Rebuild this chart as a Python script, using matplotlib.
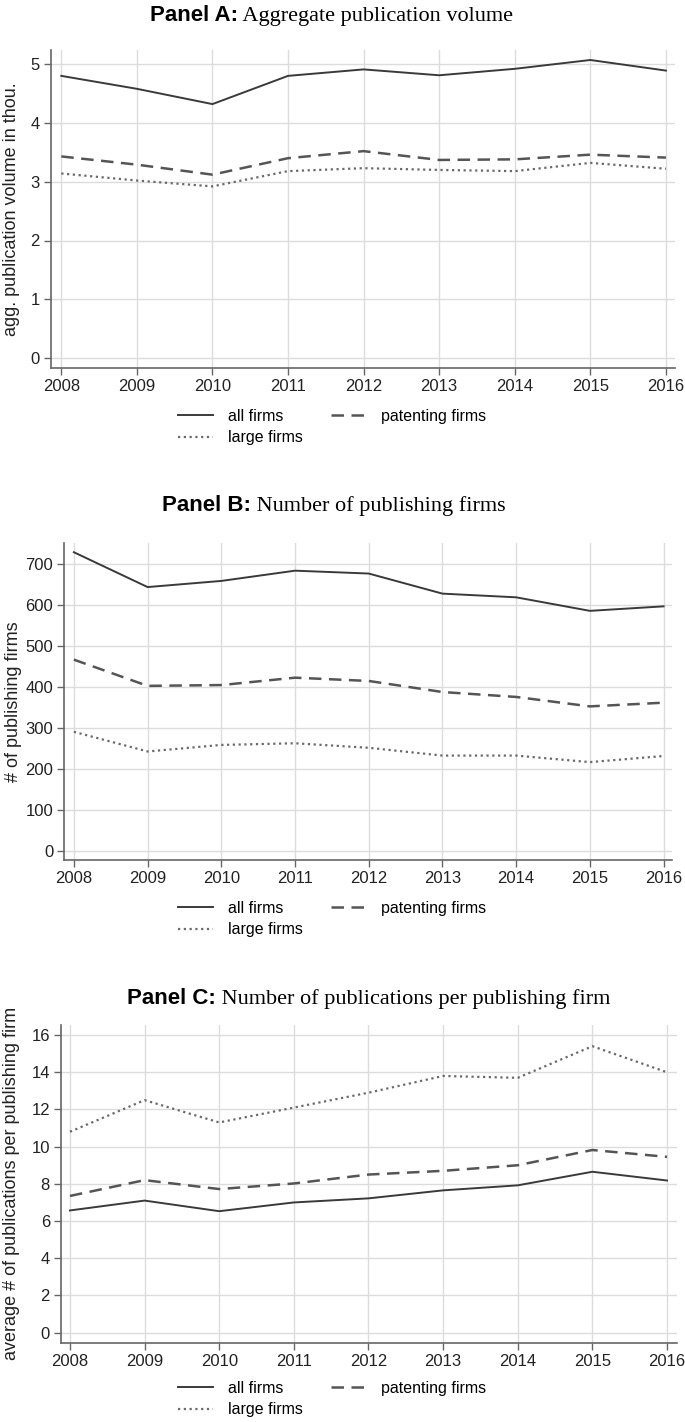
import matplotlib
matplotlib.use('Agg')
import matplotlib.pyplot as plt
from matplotlib import font_manager

years = [2008, 2009, 2010, 2011, 2012, 2013, 2014, 2015, 2016]

# Panel A: aggregate publication volume (thousands)
vol_all = [4.80, 4.58, 4.32, 4.80, 4.91, 4.81, 4.92, 5.07, 4.89]
vol_pat = [3.43, 3.29, 3.12, 3.40, 3.52, 3.37, 3.38, 3.46, 3.41]
vol_large = [3.14, 3.02, 2.92, 3.18, 3.23, 3.20, 3.18, 3.32, 3.22]

# Panel B: number of publishing firms
firms_all = [728, 643, 658, 683, 676, 627, 618, 585, 596]
firms_pat = [466, 402, 404, 422, 414, 387, 375, 352, 361]
firms_large = [290, 242, 258, 262, 251, 232, 232, 216, 231]

# Panel C: publications per publishing firm
per_all = [6.57, 7.10, 6.53, 7.00, 7.22, 7.65, 7.92, 8.65, 8.18]
per_pat = [7.35, 8.20, 7.72, 8.02, 8.50, 8.70, 9.00, 9.82, 9.45]
per_large = [10.80, 12.50, 11.30, 12.10, 12.90, 13.80, 13.70, 15.40, 14.00]

names = ['all firms', 'patenting firms', 'large firms']

avail = set(f.name for f in font_manager.fontManager.ttflist)
narrow = 'Liberation Sans Narrow' if 'Liberation Sans Narrow' in avail else 'Liberation Sans'
plt.rcParams['font.family'] = [narrow, 'DejaVu Sans']

W, H = 685, 1422
fig = plt.figure(figsize=(W / 100, H / 100), dpi=100)

def px_axes(left, top, right, bottom):
    return fig.add_axes([left / W, 1 - bottom / H, (right - left) / W, (bottom - top) / H])

def panel(box, series, yticks, ylim, xlim, ylabel, ylab_x, title_b, title_r, title_x, title_y, leg_y):
    ax = px_axes(*box)
    styles = [dict(color='#3a3a3a', lw=1.4, ls='-'),
              dict(color='#555555', lw=1.8, ls=(0, (5, 3))),
              dict(color='#6a6a6a', lw=1.6, ls=(0, (1, 1.6)))]
    lines = []
    for vals, st, nm in zip(series, styles, names):
        l, = ax.plot(years, vals, label=nm, **st)
        lines.append(l)
    ax.set_xlim(xlim)
    ax.set_ylim(ylim)
    ax.set_xticks(years)
    ax.set_yticks(yticks)
    ax.grid(True, color='#dcdcdc', lw=1.0)
    ax.set_axisbelow(True)
    for s in ['top', 'right']:
        ax.spines[s].set_visible(False)
    for s in ['left', 'bottom']:
        ax.spines[s].set_color('#666666')
        ax.spines[s].set_linewidth(1.2)
    ax.tick_params(direction='out', length=5, width=1.0, color='#666666',
                   labelsize=12, labelcolor='#222222', pad=3)
    fig.text(ylab_x / W, 1 - (box[1] + box[3]) / 2 / H, ylabel, rotation=90,
             ha='center', va='center', fontsize=13, family='Liberation Sans', color='#222222')
    t1 = fig.text(title_x / W, 1 - title_y / H, title_b, fontsize=16, fontweight='bold',
                  family='Liberation Sans', ha='left', va='baseline', color='black')
    ax.annotate(' ' + title_r, xy=(1, 0), xycoords=t1, va='bottom', ha='left',
                fontsize=16, family='Liberation Serif', color='black')
    fig.legend([lines[0], lines[2], lines[1]], [names[0], names[2], names[1]],
               ncol=2, loc='upper left', bbox_to_anchor=(178 / W, 1 - leg_y / H),
               frameon=False, fontsize=11.5, handlelength=2.2, handletextpad=0.9,
               columnspacing=1.8, labelspacing=0.4, borderpad=0, borderaxespad=0)
    return ax

panel((50.7, 50, 675, 367.5), [vol_all, vol_pat, vol_large], [0, 1, 2, 3, 4, 5],
      (-0.16, 5.24), (2007.86, 2016.12), 'agg. publication volume in thou.', 12,
      'Panel A:', 'Aggregate publication volume', 150, 21, 409)

panel((64.3, 543, 671.7, 860), [firms_all, firms_pat, firms_large],
      [0, 100, 200, 300, 400, 500, 600, 700],
      (-22.7, 750.5), (2007.87, 2016.11), '# of publishing firms', 14,
      'Panel B:', 'Number of publishing firms', 162, 511, 901)

panel((61, 1025, 676.7, 1342.7), [per_all, per_pat, per_large],
      [0, 2, 4, 6, 8, 10, 12, 14, 16],
      (-0.54, 16.54), (2007.88, 2016.13), 'average # of publications per publishing firm', 12,
      'Panel C:', 'Number of publications per publishing firm', 127, 1004, 1381)

fig.savefig('out.png', dpi=100, facecolor='white')
